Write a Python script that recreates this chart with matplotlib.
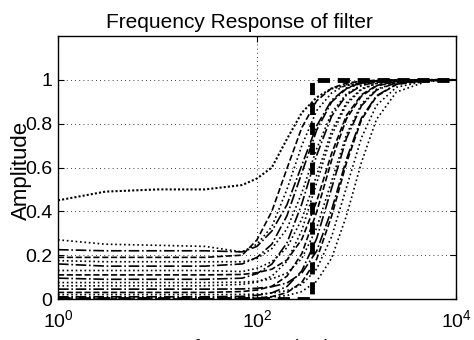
import numpy as np
import matplotlib
matplotlib.use("Agg")
import matplotlib.pyplot as plt

plt.rcParams["font.family"] = ["Liberation Sans", "DejaVu Sans"]
plt.rcParams["mathtext.fontset"] = "custom"
plt.rcParams["mathtext.rm"] = "Liberation Sans"
plt.rcParams["mathtext.default"] = "regular"

# sample frequencies (Hz) shared by all filter curves
freq = [1, 3, 10, 30, 71, 100, 141, 200, 282, 398, 562, 794, 1122, 1585, 2512, 5000, 10000]

# amplitude of each filter
amp_top = [0.45, 0.49, 0.50, 0.50, 0.52, 0.55, 0.60, 0.73, 0.85, 0.92, 0.96, 0.975, 0.985, 0.993, 0.998, 1.0, 1.0]
amp_01 = [0.27, 0.25, 0.245, 0.24, 0.215, 0.25, 0.33, 0.50, 0.70, 0.86, 0.94, 0.978, 0.992, 0.997, 1.0, 1.0, 1.0]
amp_02 = [0.225, 0.22, 0.22, 0.22, 0.215, 0.24, 0.31, 0.43, 0.61, 0.79, 0.907, 0.963, 0.986, 0.995, 0.998, 1.0, 1.0]
amp_03 = [0.19, 0.19, 0.19, 0.19, 0.20, 0.27, 0.40, 0.595, 0.782, 0.904, 0.962, 0.985, 0.994, 0.998, 1.0, 1.0, 1.0]
amp_04 = [0.175, 0.17, 0.17, 0.17, 0.17, 0.185, 0.23, 0.32, 0.484, 0.686, 0.849, 0.937, 0.976, 0.991, 0.998, 1.0, 1.0]
amp_05 = [0.16, 0.15, 0.15, 0.15, 0.16, 0.19, 0.25, 0.38, 0.575, 0.771, 0.899, 0.96, 0.985, 0.994, 0.998, 1.0, 1.0]
amp_06 = [0.13, 0.13, 0.13, 0.13, 0.125, 0.14, 0.17, 0.234, 0.364, 0.565, 0.766, 0.896, 0.959, 0.984, 0.996, 0.999, 1.0]
amp_07 = [0.11, 0.11, 0.11, 0.11, 0.112, 0.12, 0.136, 0.178, 0.272, 0.446, 0.664, 0.838, 0.932, 0.974, 0.993, 0.999, 1.0]
amp_08 = [0.095, 0.09, 0.09, 0.09, 0.095, 0.116, 0.159, 0.256, 0.434, 0.656, 0.834, 0.931, 0.974, 0.99, 0.997, 1.0, 1.0]
amp_09 = [0.075, 0.075, 0.075, 0.075, 0.077, 0.081, 0.092, 0.118, 0.185, 0.324, 0.538, 0.751, 0.89, 0.957, 0.988, 0.998, 1.0]
amp_10 = [0.06, 0.06, 0.06, 0.06, 0.067, 0.077, 0.104, 0.172, 0.313, 0.53, 0.747, 0.888, 0.956, 0.983, 0.995, 0.999, 1.0]
amp_11 = [0.045, 0.045, 0.045, 0.045, 0.046, 0.049, 0.056, 0.073, 0.118, 0.219, 0.406, 0.639, 0.826, 0.927, 0.98, 0.997, 1.0]
amp_12 = [0.03, 0.03, 0.03, 0.03, 0.034, 0.041, 0.058, 0.104, 0.207, 0.397, 0.633, 0.823, 0.926, 0.972, 0.992, 0.999, 1.0]
amp_13 = [0.02, 0.02, 0.02, 0.02, 0.021, 0.022, 0.027, 0.038, 0.066, 0.137, 0.284, 0.51, 0.736, 0.883, 0.966, 0.995, 0.999]
amp_14 = [0.01, 0.01, 0.01, 0.01, 0.012, 0.017, 0.028, 0.057, 0.128, 0.276, 0.505, 0.734, 0.882, 0.953, 0.987, 0.998, 1.0]
amp_15 = [0.005, 0.005, 0.005, 0.005, 0.006, 0.007, 0.009, 0.016, 0.034, 0.081, 0.186, 0.381, 0.624, 0.819, 0.944, 0.992, 0.999]
amp_16 = [0.0, 0.0, 0.0, 0.0, 0.002, 0.004, 0.011, 0.029, 0.076, 0.182, 0.378, 0.622, 0.818, 0.924, 0.979, 0.997, 1.0]

# ideal high-pass response
ideal_freq = [1, 360, 360, 10000]
ideal_amp = [0, 0, 1, 1]

curves = [amp_01, amp_02, amp_03, amp_04, amp_05, amp_06, amp_07, amp_08,
          amp_09, amp_10, amp_11, amp_12, amp_13, amp_14, amp_15, amp_16]
styles = [":", "-.", "--", ":", "-.", ":", "--", "-.", ":"]

fig = plt.figure(figsize=(4.74, 3.4), dpi=100)
ax = fig.add_axes([58 / 474, 41 / 340, 398 / 474, 263 / 340])

ax.plot(freq, amp_top, color="black", linestyle=(0, (1, 1)), linewidth=1.5)
for i, amp in enumerate(curves):
    ax.plot(freq, amp, color="black", linestyle=styles[i % len(styles)], linewidth=1.2)
ax.plot(ideal_freq, ideal_amp, color="black", linewidth=3.5, dashes=(2.5, 1.6))

ax.set_xscale("log")
ax.set_xlim(1, 10000)
ax.set_ylim(0, 1.2)
ax.set_xticks([1, 100, 10000])
ax.set_xticklabels([r"$10^0$", r"$10^2$", r"$10^4$"])
ax.xaxis.set_minor_locator(matplotlib.ticker.NullLocator())
ax.set_yticks([0, 0.2, 0.4, 0.6, 0.8, 1])
ax.set_yticklabels(["0", "0.2", "0.4", "0.6", "0.8", "1"])
ax.tick_params(direction="in", length=4, top=True, right=True, labelsize=14)
ax.tick_params(axis="x", pad=7)
ax.tick_params(axis="y", pad=4)
ax.grid(True, color="black", linestyle=(0, (1, 4)), linewidth=0.6)
for sp in ax.spines.values():
    sp.set_linewidth(1.0)

ax.set_title("Frequency Response of filter", fontsize=15, pad=5.5, x=0.457)
ax.set_ylabel("Amplitude", fontsize=16)
ax.yaxis.set_label_coords(-0.065, 0.49)
# x label sits mostly below the bottom edge, as in the original
fig.text(0.553, -0.04, "frequency (Hz)", fontsize=15, ha="center", va="baseline")

fig.savefig("out.png", dpi=100)
